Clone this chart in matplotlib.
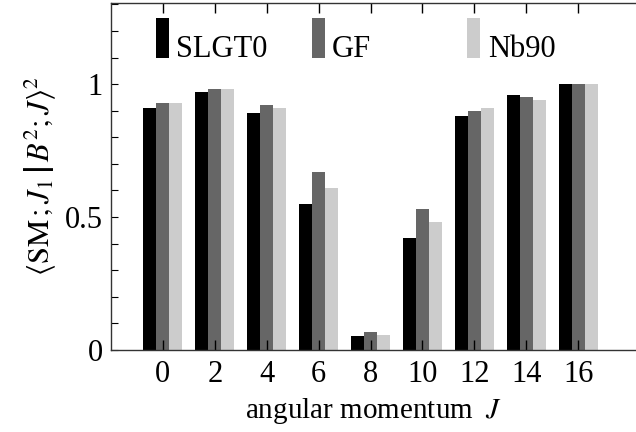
import numpy as np
import matplotlib
matplotlib.use("Agg")
import matplotlib.pyplot as plt
from matplotlib.patches import Rectangle
from matplotlib.ticker import MultipleLocator

plt.rcParams['font.family'] = ['Liberation Serif', 'DejaVu Serif']
plt.rcParams['mathtext.fontset'] = 'stix'

# 数据
J = [0, 2, 4, 6, 8, 10, 12, 14, 16]
series = ['SLGT0', 'GF', 'Nb90']
slgt0 = [0.911, 0.970, 0.891, 0.549, 0.054, 0.421, 0.880, 0.959, 1.0]
gf = [0.929, 0.981, 0.921, 0.669, 0.068, 0.530, 0.898, 0.951, 1.0]
nb90 = [0.929, 0.981, 0.911, 0.609, 0.058, 0.481, 0.911, 0.940, 1.0]
colors = ['#000000', '#666666', '#cccccc']

fs = 22

fig = plt.figure(figsize=(6.36, 4.32), dpi=100)
ax = fig.add_axes([0.1745, 0.19, 0.8255, 0.803])

x = np.array(J, dtype=float)
w = 0.5
for k, vals in enumerate([slgt0, gf, nb90]):
    ax.bar(x + (k - 1) * w, vals, width=w, color=colors[k], linewidth=0)

ax.set_xlim(-2, 18.23)
ax.set_ylim(0, 1.305)
ax.set_xticks(J)
ax.set_xticklabels([str(j) for j in J])
ax.set_yticks([0, 0.5, 1])
ax.set_yticklabels(['0', '0.5', '1'])
ax.yaxis.set_minor_locator(MultipleLocator(0.1))

ax.tick_params(axis='both', which='both', direction='in', labelsize=fs)
ax.tick_params(axis='x', top=True, length=7, width=1, pad=7)
ax.tick_params(axis='y', which='both', length=5, width=0.8, pad=6)
ax.spines['right'].set_visible(False)
for s in ['left', 'bottom', 'top']:
    ax.spines[s].set_linewidth(1)
    ax.spines[s].set_color('#333333')

ax.set_xlabel(r'angular momentum $\;J$', fontsize=21, labelpad=5)
ax.set_ylabel(r'$\left\langle \mathrm{SM}\,;J_1\,\left|\,B^2;J\right.\right\rangle^2$',
              fontsize=fs, labelpad=5)

# 图例（手动）
for i, (name, c) in enumerate(zip(series, colors)):
    x0 = 0.085 + i * 0.297
    ax.add_patch(Rectangle((x0, 0.842), 0.0248, 0.115, transform=ax.transAxes,
                           color=c, linewidth=0, clip_on=False))
    ax.text(x0 + 0.039, 0.843, name, transform=ax.transAxes, fontsize=fs,
            va='baseline', ha='left')

fig.savefig('out.png', dpi=100)
